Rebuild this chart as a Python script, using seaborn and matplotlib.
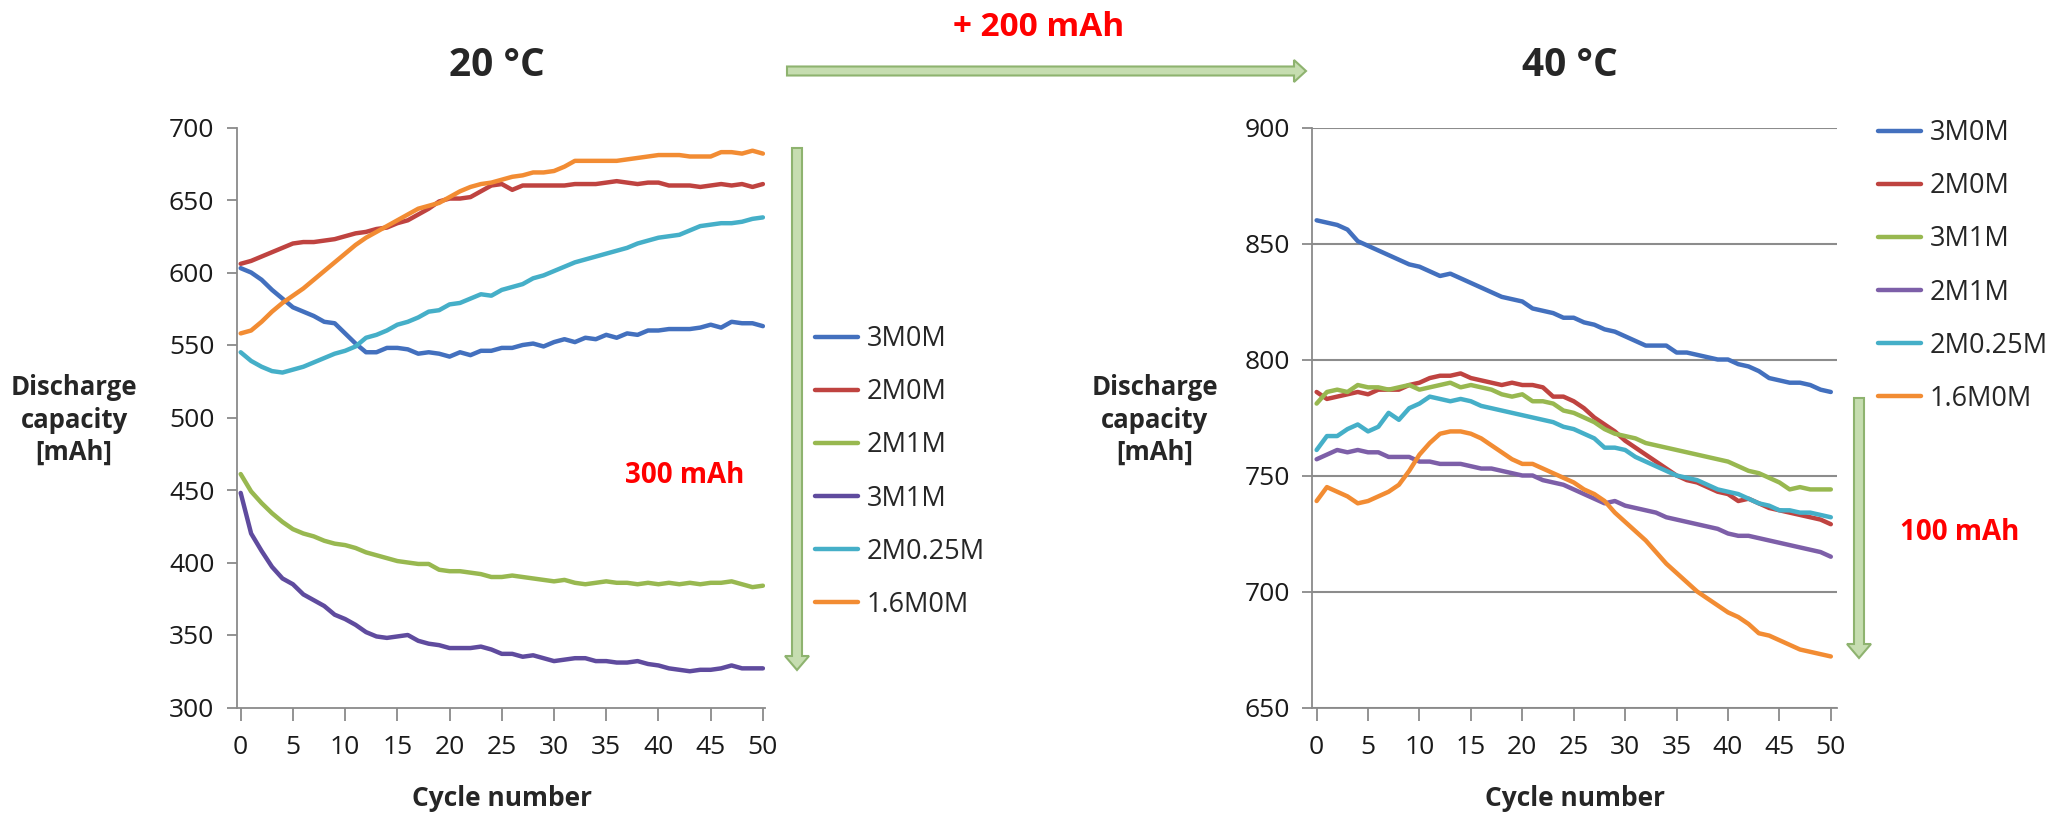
import numpy as np
import pandas as pd
import matplotlib
matplotlib.use("Agg")
import matplotlib.pyplot as plt
import seaborn as sns
from matplotlib.patches import FancyArrow

# ---- data ----
cycles = np.arange(51)

# 20 °C panel
c20_3M0M = [603, 600, 595, 588, 582, 576, 573, 570, 566, 565, 558, 551, 545, 545, 548, 548, 547,
            544, 545, 544, 542, 545, 543, 546, 546, 548, 548, 550, 551, 549, 552, 554, 552, 555,
            554, 557, 555, 558, 557, 560, 560, 561, 561, 561, 562, 564, 562, 566, 565, 565, 563]
c20_2M0M = [606, 608, 611, 614, 617, 620, 621, 621, 622, 623, 625, 627, 628, 630, 631, 634, 636,
            640, 644, 649, 651, 651, 652, 656, 660, 661, 657, 660, 660, 660, 660, 660, 661, 661,
            661, 662, 663, 662, 661, 662, 662, 660, 660, 660, 659, 660, 661, 660, 661, 659, 661]
c20_2M1M = [461, 449, 441, 434, 428, 423, 420, 418, 415, 413, 412, 410, 407, 405, 403, 401, 400,
            399, 399, 395, 394, 394, 393, 392, 390, 390, 391, 390, 389, 388, 387, 388, 386, 385,
            386, 387, 386, 386, 385, 386, 385, 386, 385, 386, 385, 386, 386, 387, 385, 383, 384]
c20_3M1M = [448, 420, 408, 397, 389, 385, 378, 374, 370, 364, 361, 357, 352, 349, 348, 349, 350,
            346, 344, 343, 341, 341, 341, 342, 340, 337, 337, 335, 336, 334, 332, 333, 334, 334,
            332, 332, 331, 331, 332, 330, 329, 327, 326, 325, 326, 326, 327, 329, 327, 327, 327]
c20_2M025M = [545, 539, 535, 532, 531, 533, 535, 538, 541, 544, 546, 549, 555, 557, 560, 564, 566,
              569, 573, 574, 578, 579, 582, 585, 584, 588, 590, 592, 596, 598, 601, 604, 607, 609,
              611, 613, 615, 617, 620, 622, 624, 625, 626, 629, 632, 633, 634, 634, 635, 637, 638]
c20_16M0M = [558, 560, 566, 573, 579, 584, 589, 595, 601, 607, 613, 619, 624, 628, 632, 636, 640,
             644, 646, 648, 652, 656, 659, 661, 662, 664, 666, 667, 669, 669, 670, 673, 677, 677,
             677, 677, 677, 678, 679, 680, 681, 681, 681, 680, 680, 680, 683, 683, 682, 684, 682]

# 40 °C panel
c40_3M0M = [860, 859, 858, 856, 851, 849, 847, 845, 843, 841, 840, 838, 836, 837, 835, 833, 831,
            829, 827, 826, 825, 822, 821, 820, 818, 818, 816, 815, 813, 812, 810, 808, 806, 806,
            806, 803, 803, 802, 801, 800, 800, 798, 797, 795, 792, 791, 790, 790, 789, 787, 786]
c40_2M0M = [786, 783, 784, 785, 786, 785, 787, 787, 787, 789, 790, 792, 793, 793, 794, 792, 791,
            790, 789, 790, 789, 789, 788, 784, 784, 782, 779, 775, 772, 769, 765, 762, 759, 756,
            753, 750, 748, 747, 745, 743, 742, 739, 740, 738, 736, 735, 734, 733, 732, 731, 729]
c40_3M1M = [781, 786, 787, 786, 789, 788, 788, 787, 788, 789, 787, 788, 789, 790, 788, 789, 788,
            787, 785, 784, 785, 782, 782, 781, 778, 777, 775, 773, 770, 768, 767, 766, 764, 763,
            762, 761, 760, 759, 758, 757, 756, 754, 752, 751, 749, 747, 744, 745, 744, 744, 744]
c40_2M1M = [757, 759, 761, 760, 761, 760, 760, 758, 758, 758, 756, 756, 755, 755, 755, 754, 753,
            753, 752, 751, 750, 750, 748, 747, 746, 744, 742, 740, 738, 739, 737, 736, 735, 734,
            732, 731, 730, 729, 728, 727, 725, 724, 724, 723, 722, 721, 720, 719, 718, 717, 715]
c40_2M025M = [761, 767, 767, 770, 772, 769, 771, 777, 774, 779, 781, 784, 783, 782, 783, 782, 780,
              779, 778, 777, 776, 775, 774, 773, 771, 770, 768, 766, 762, 762, 761, 758, 756, 754,
              752, 750, 749, 748, 746, 744, 743, 742, 740, 738, 737, 735, 735, 734, 734, 733, 732]
c40_16M0M = [739, 745, 743, 741, 738, 739, 741, 743, 746, 752, 759, 764, 768, 769, 769, 768, 766,
             763, 760, 757, 755, 755, 753, 751, 749, 747, 744, 742, 739, 734, 730, 726, 722, 717,
             712, 708, 704, 700, 697, 694, 691, 689, 686, 682, 681, 679, 677, 675, 674, 673, 672]

left_names = ["3M0M", "2M0M", "2M1M", "3M1M", "2M0.25M", "1.6M0M"]
left_values = [c20_3M0M, c20_2M0M, c20_2M1M, c20_3M1M, c20_2M025M, c20_16M0M]
right_names = ["3M0M", "2M0M", "3M1M", "2M1M", "2M0.25M", "1.6M0M"]
right_values = [c40_3M0M, c40_2M0M, c40_3M1M, c40_2M1M, c40_2M025M, c40_16M0M]

left_colors = ["#4370BE", "#BF4340", "#98B850", "#5F4B9E", "#45AFC8", "#F28C33"]
right_colors = ["#4370BE", "#BF4340", "#98B850", "#7D5FA8", "#45AFC8", "#F28C33"]

# ---- figure ----
sns.set_style("white")
plt.rcParams["font.family"] = ["Open Sans", "DejaVu Sans"]

W, H = 2062, 814
fig = plt.figure(figsize=(W / 100, H / 100), dpi=100)


def fx(x):
    return x / W


def fy(y):
    return 1 - y / H


ax1 = fig.add_axes([fx(236.5), fy(707.5), 528.5 / W, 580 / H])
ax2 = fig.add_axes([fx(1312), fy(707.5), 525 / W, 580 / H])

for ax, names, values, colors in [(ax1, left_names, left_values, left_colors),
                                  (ax2, right_names, right_values, right_colors)]:
    df = pd.DataFrame({"cycle": np.tile(cycles, len(names)),
                       "capacity": np.concatenate(values),
                       "cell": np.repeat(names, len(cycles))})
    sns.lineplot(data=df, x="cycle", y="capacity", hue="cell", hue_order=names,
                 palette=colors, linewidth=3.2, ax=ax)
    for s in ["top", "right"]:
        ax.spines[s].set_visible(False)
    for s in ["left", "bottom"]:
        ax.spines[s].set_color("#8a8a8a")
        ax.spines[s].set_linewidth(1.3)
    ax.set_xticks(range(0, 51, 5))
    ax.tick_params(axis="both", bottom=True, left=True, color="#8a8a8a", width=1.3,
                   labelsize=19, labelcolor="#1a1a1a")
    ax.tick_params(axis="x", length=9, pad=11)
    ax.tick_params(axis="y", length=7, pad=9)
    ax.set_xlabel("")
    ax.set_ylabel("")
    ax.legend(loc="center left", frameon=False, fontsize=19.5, handlelength=1.6,
              handletextpad=0.3, labelspacing=0.93, borderpad=0, borderaxespad=0,
              bbox_transform=fig.transFigure,
              bbox_to_anchor=(fx(815), fy(472)) if ax is ax1 else (fx(1878), fy(266)))

ax1.set_xlim(-0.4, 50.2)
ax1.set_ylim(300, 700)
ax1.set_yticks(range(300, 701, 50))
ax1.grid(False)

ax2.set_xlim(-0.45, 50.6)
ax2.set_ylim(650, 900)
ax2.set_yticks(range(650, 901, 50))
ax2.grid(axis="y", color="#8c8c8c", linewidth=1.5)
ax2.set_axisbelow(True)

# ---- texts ----
bold = dict(fontweight="bold", ha="center", va="center")
fig.text(fx(497), fy(66), "20 °C", fontsize=28, **bold)
fig.text(fx(1570), fy(66), "40 °C", fontsize=28, **bold)
fig.text(fx(1039), fy(27), "+ 200 mAh", fontsize=24, color="red", **bold)
fig.text(fx(685), fy(476), "300 mAh", fontsize=20, color="red", **bold)
fig.text(fx(1960), fy(533), "100 mAh", fontsize=20, color="red", **bold)
for x in (74, 1155):
    fig.text(fx(x), fy(420), "Discharge\ncapacity\n[mAh]", fontsize=18.5,
             linespacing=1.25, **bold)
for x in (502, 1575):
    fig.text(fx(x), fy(798), "Cycle number", fontsize=19, **bold)

# ---- arrows ----
ov = fig.add_axes([0, 0, 1, 1])
ov.set_xlim(0, W)
ov.set_ylim(H, 0)
ov.axis("off")
arrow_style = dict(length_includes_head=True, fc="#C6DDB0", ec="#8EB36F", lw=1.5)
ov.add_patch(FancyArrow(787, 71, 519, 0, width=9, head_width=22, head_length=12, **arrow_style))
ov.add_patch(FancyArrow(797, 148, 0, 522, width=10, head_width=24, head_length=14, **arrow_style))
ov.add_patch(FancyArrow(1859, 398, 0, 260, width=10, head_width=24, head_length=14, **arrow_style))

fig.savefig("out.png", dpi=100, facecolor="white")
